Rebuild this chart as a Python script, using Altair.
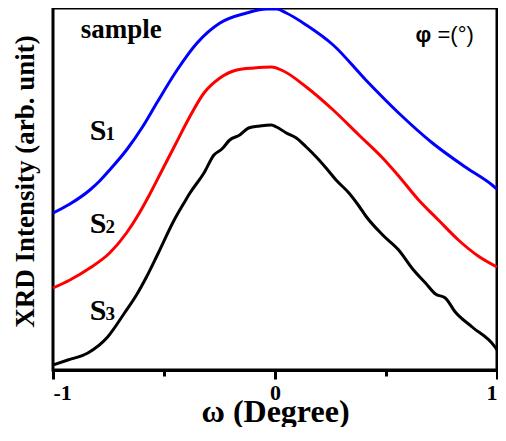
import altair as alt
import pandas as pd

# ---- data (omega in degree, intensity in arb. unit) ----
omega_s1 = [-1.000, -0.924, -0.834, -0.790, -0.745, -0.669, -0.597, -0.530, -0.441, -0.351,
            -0.248, -0.128, -0.038, 0.007, 0.051, 0.141, 0.262, 0.409, 0.557, 0.709,
            0.857, 0.978, 1.000]
int_s1 = [157, 166, 180, 189, 200, 220, 243, 268, 300, 327,
          347, 357, 361, 361, 357, 345, 325, 290, 257, 227,
          203, 185, 181]

omega_s2 = [-1.000, -0.924, -0.834, -0.745, -0.669, -0.611, -0.566, -0.508, -0.450, -0.387,
            -0.320, -0.248, -0.172, -0.096, -0.016, 0.038, 0.141, 0.262, 0.378, 0.485,
            0.557, 0.647, 0.736, 0.826, 0.915, 1.000]
int_s2 = [82, 90, 102, 117, 137, 157, 175, 200, 225, 252,
          277, 292, 300, 302, 303, 299, 283, 260, 235, 212,
          194, 170, 150, 130, 114, 103]

omega_s3 = [-1.000, -0.933, -0.843, -0.754, -0.678, -0.624, -0.579, -0.530,
            -0.454, -0.410, -0.383, -0.320, -0.275, -0.239, -0.204, -0.159, -0.119,
            -0.069, -0.016, 0.007, 0.051, 0.096, 0.141, 0.186, 0.230, 0.275, 0.333,
            0.378, 0.409, 0.485, 0.557, 0.620, 0.678, 0.723, 0.767, 0.812, 0.888,
            0.991, 1.000]
int_s3 = [5, 10, 17, 33, 57, 75, 93, 115,
          150, 167, 177, 197, 215, 221, 230, 235, 242,
          244, 245, 243, 237, 232, 223, 213, 202, 190, 177,
          164, 154, 135, 120, 101, 87, 76, 72, 58, 43,
          23, 20]

series_colors = ["#0000ff", "#ff0000", "#000000"]

tick_values = [-1, -0.5, 0, 0.5, 1]
tick_labels = ["-1", "", "0", "", "1"]

# annotation texts (positions in data units)
s_letters = ["S", "S", "S"]
s_subs = ["1", "2", "3"]
s_omega = [-0.834, -0.834, -0.834]
s_sub_omega = [-0.763, -0.763, -0.763]
s_int = [230, 137, 50]

# ---- chart ----
SERIF = "Liberation Serif"
SANS = "Liberation Sans"

label_expr = " : ".join(
    f"datum.value === {v} ? '{l}'" for v, l in zip(tick_values, tick_labels)
) + " : ''"

xscale = alt.Scale(domain=[-1, 1], nice=False, zero=False)
yscale = alt.Scale(domain=[0, 362], nice=False, zero=False)


def X():
    return alt.X(
        "omega:Q",
        scale=xscale,
        axis=alt.Axis(
            title="ω (Degree)",
            values=tick_values,
            labelExpr=label_expr,
            grid=False,
            domainColor="black",
            domainWidth=3,
            tickColor="black",
            tickWidth=3,
            tickSize={"condition": {"test": "datum.value % 1 === 0", "value": 9}, "value": 6},
            labelFont=SERIF,
            labelFontWeight="bold",
            labelFontSize=22,
            labelColor="black",
            labelPadding=3,
            titleFont=SERIF,
            titleFontWeight="bold",
            titleFontSize=32,
            titleColor="black",
            titleBaseline="alphabetic",
            titleY=51,
        ),
    )


def Y():
    return alt.Y(
        "intensity:Q",
        scale=yscale,
        axis=alt.Axis(
            title="XRD Intensity (arb. unit)",
            labels=False,
            ticks=False,
            domain=False,
            grid=False,
            titleFont=SERIF,
            titleFontWeight="bold",
            titleFontSize=27,
            titleColor="black",
            titleBaseline="alphabetic",
            titleX=-20,
            titleY=173,
        ),
    )


def line_layer(om, it, color):
    df = pd.DataFrame({"omega": om, "intensity": it})
    return alt.Chart(df).mark_line(
        color=color, strokeWidth=3, interpolate="monotone"
    ).encode(x=X(), y=Y())


l1 = line_layer(omega_s1, int_s1, series_colors[0])
l2 = line_layer(omega_s2, int_s2, series_colors[1])
l3 = line_layer(omega_s3, int_s3, series_colors[2])

s_df = pd.DataFrame({"omega": s_omega, "intensity": s_int, "txt": s_letters})
sub_df = pd.DataFrame({"omega": s_sub_omega, "intensity": s_int, "txt": s_subs})

s_text = alt.Chart(s_df).mark_text(
    align="left", baseline="alphabetic", font=SERIF, fontWeight="bold",
    fontSize=30, color="black"
).encode(x=X(), y=Y(), text="txt:N")

sub_text = alt.Chart(sub_df).mark_text(
    align="left", baseline="alphabetic", font=SERIF, fontWeight="bold",
    fontSize=19, color="black"
).encode(x=X(), y=Y(), text="txt:N")

sample_df = pd.DataFrame({"omega": [-0.875], "intensity": [332], "txt": ["sample"]})
sample_text = alt.Chart(sample_df).mark_text(
    align="left", baseline="alphabetic", font=SERIF, fontWeight="bold",
    fontSize=27, color="black"
).encode(x=X(), y=Y(), text="txt:N")

phi_df = pd.DataFrame({"omega": [0.633], "intensity": [328], "txt": ["φ"]})
phi_text = alt.Chart(phi_df).mark_text(
    align="left", baseline="alphabetic", font=SANS, fontWeight="bold",
    fontSize=22, color="black"
).encode(x=X(), y=Y(), text="txt:N")

eq_df = pd.DataFrame({"omega": [0.732], "intensity": [328], "txt": ["=(°)"]})
eq_text = alt.Chart(eq_df).mark_text(
    align="left", baseline="alphabetic", font=SANS,
    fontSize=22, color="black"
).encode(x=X(), y=Y(), text="txt:N")

chart = alt.layer(
    l1, l2, l3, s_text, sub_text, sample_text, phi_text, eq_text
).properties(
    width=444,
    height=362,
    padding={"left": 45, "top": 0, "right": 1, "bottom": 57},
    autosize=alt.AutoSizeParams(type="none"),
    background="white",
).configure_view(
    stroke="black", strokeWidth=3
)

chart.save("out.html", embed_options={"renderer": "svg", "actions": False})
